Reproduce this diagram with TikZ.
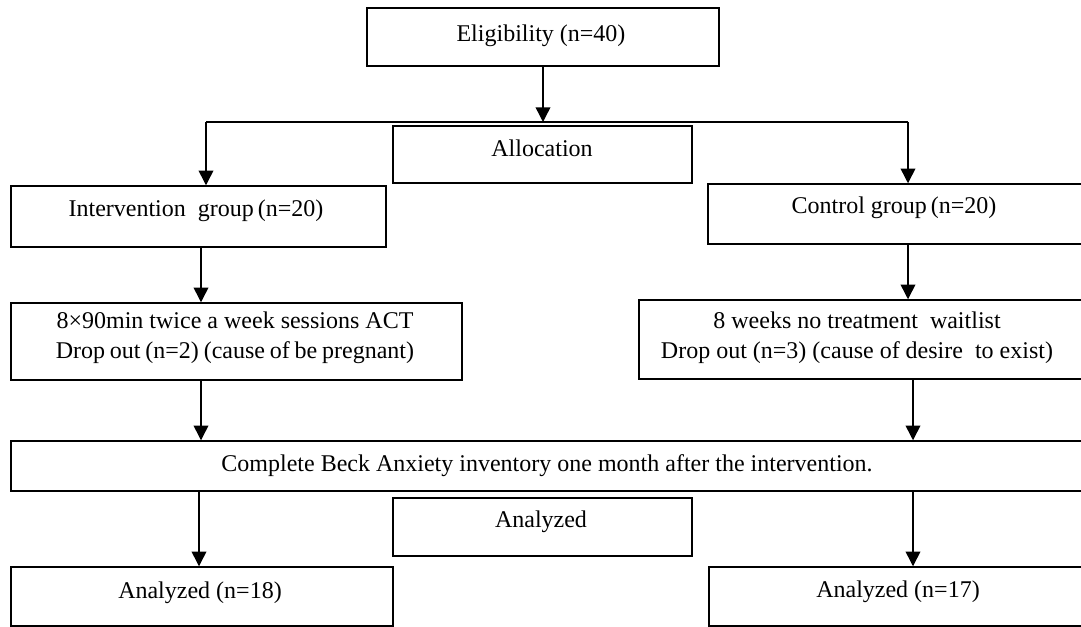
\documentclass[tikz,border=0pt]{standalone}
\usepackage{fontspec}
\setmainfont{Liberation Serif}
\usetikzlibrary{arrows.meta,fit}
\begin{document}
\begin{tikzpicture}[x=0.75pt,y=-0.75pt,
  box/.style={draw, line width=1.1pt, rectangle, inner sep=0pt},
  txt/.style={font=\fontsize{18}{22.5}\selectfont, inner sep=0pt},
  arr/.style={line width=1.1pt, -{Triangle[width=11pt,length=11pt]}},
  ln/.style={line width=1.1pt}]
\useasboundingbox (0,0) rectangle (1081,627);
\clip (0,0) rectangle (1081,627);
% boxes
\node[box, fit={(367,8) (719,66)}] (elig) {};
\node[box, fit={(393,126) (692,183)}] (alloc) {};
\node[box, fit={(11,186) (386,247)}] (inter) {};
\node[box, fit={(708,184) (1110,244)}] (ctrl) {};
\node[box, fit={(11,303) (462,380)}] (act) {};
\node[box, fit={(639,300) (1110,379)}] (wait) {};
\node[box, fit={(11,441) (1110,491)}] (beck) {};
\node[box, fit={(393,498) (692,556)}] (anl) {};
\node[box, fit={(11,567) (393,626)}] (an18) {};
\node[box, fit={(709,567) (1110,626)}] (an17) {};
% texts
\node[txt] (teli) at (541,36) {Eligibility (n=40)};
\node[txt] (tall) at (542,148) {Allocation};
\node[txt] (tint) at (196,211) {Intervention\ \ group\,(n=20)};
\node[txt] (tctl) at (894,208) {Control group\,(n=20)};
\node[txt, align=center] (tact) at (235,338) {8×90min twice a week sessions ACT\\{\spaceskip=0.2em plus 0.1em Drop out (n=2) (cause of be pregnant)}};
\node[txt, align=center] (twai) at (857,338) {8 weeks no treatment\ \ waitlist\\Drop out (n=3) (cause of desire\ \ to exist)};
\node[txt] (tbec) at (547,466) {Complete Beck Anxiety inventory one month after the intervention.};
\node[txt] (tanl) at (541,522) {Analyzed};
\node[txt] (ta18) at (200,593) {Analyzed (n=18)};
\node[txt] (ta17) at (898,592) {Analyzed (n=17)};
% connector points
\coordinate (split) at (543,122);
\coordinate (sl) at (206,122);
\coordinate (sr) at (908,122);
\coordinate (xa) at (201,0);
\coordinate (xb) at (199,0);
\coordinate (xc) at (913,0);
% connectors
\draw[arr] (elig.south) -- (split);
\draw[ln] (sl) -- (sr);
\draw[arr] (sl) -- (sl |- inter.north);
\draw[arr] (sr) -- (sr |- ctrl.north);
\draw[arr] (xa |- inter.south) -- (xa |- act.north);
\draw[arr] (sr |- ctrl.south) -- (sr |- wait.north);
\draw[arr] (xa |- act.south) -- (xa |- beck.north);
\draw[arr] (xc |- wait.south) -- (xc |- beck.north);
\draw[arr] (xb |- beck.south) -- (xb |- an18.north);
\draw[arr] (xc |- beck.south) -- (xc |- an17.north);
\end{tikzpicture}
\end{document}
